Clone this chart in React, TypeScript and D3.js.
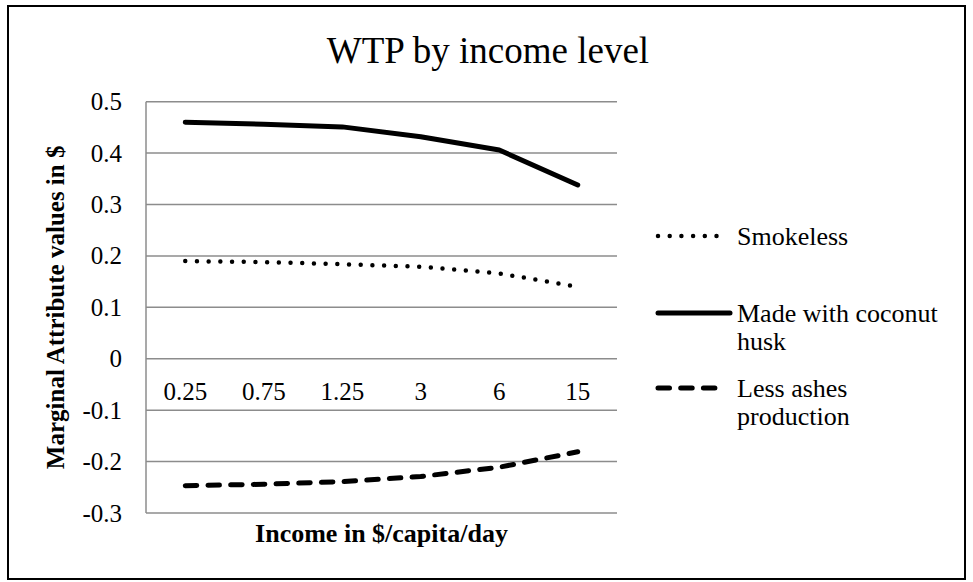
import React, { useEffect, useRef } from 'react';
import * as d3 from 'd3';

const categories = ['0.25', '0.75', '1.25', '3', '6', '15'];
const smokeless = [0.19, 0.188, 0.184, 0.179, 0.166, 0.14];
const coconutHusk = [0.46, 0.456, 0.451, 0.432, 0.406, 0.338];
const lessAshes = [-0.247, -0.244, -0.239, -0.229, -0.211, -0.181];
const yTickValues = [-0.3, -0.2, -0.1, 0, 0.1, 0.2, 0.3, 0.4, 0.5];

const FONT = '"Liberation Serif", "Times New Roman", serif';

const series = [
  { name: ['Smokeless'], values: smokeless, width: 4.5, dash: '0 11.7', legendEnd: 720, y: 236 },
  { name: ['Made with coconut', 'husk'], values: coconutHusk, width: 5, dash: null, legendEnd: 730, y: 313 },
  { name: ['Less ashes', 'production'], values: lessAshes, width: 5, dash: '11.5 11.2', legendEnd: 722, y: 388 },
];

const App: React.FC = () => {
  const svgRef = useRef<SVGSVGElement>(null);

  useEffect(() => {
    if (!svgRef.current) return;
    const svg = d3.select(svgRef.current);
    svg.selectAll('*').remove();

    const plot = { left: 146, right: 617, top: 101.7, bottom: 513 };

    // outer chart border
    svg.append('rect')
      .attr('x', 8).attr('y', 6)
      .attr('width', 957).attr('height', 573)
      .attr('fill', '#fff')
      .attr('stroke', '#000')
      .attr('stroke-width', 2);

    const x = d3.scalePoint<string>()
      .domain(categories)
      .range([plot.left, plot.right])
      .padding(0.5);

    const y = d3.scaleLinear()
      .domain([-0.3, 0.5])
      .range([plot.bottom, plot.top]);

    // gridlines
    svg.append('g')
      .selectAll('line')
      .data(yTickValues)
      .enter()
      .append('line')
      .attr('x1', plot.left).attr('x2', plot.right)
      .attr('y1', d => y(d)).attr('y2', d => y(d))
      .attr('stroke', '#8c8c8c')
      .attr('stroke-width', 1.5);

    // left axis line
    svg.append('line')
      .attr('x1', plot.left).attr('x2', plot.left)
      .attr('y1', y(0.5)).attr('y2', y(-0.3))
      .attr('stroke', '#8c8c8c')
      .attr('stroke-width', 1.5);

    // y tick labels
    svg.append('g')
      .selectAll('text')
      .data(yTickValues)
      .enter()
      .append('text')
      .text(d => String(+d.toFixed(1)))
      .attr('x', 122)
      .attr('y', d => y(d))
      .attr('dy', '0.34em')
      .attr('text-anchor', 'end')
      .attr('font-family', FONT)
      .attr('font-size', 25);

    // category labels sit under the zero line
    svg.append('g')
      .selectAll('text')
      .data(categories)
      .enter()
      .append('text')
      .text(d => d)
      .attr('x', d => x(d) || 0)
      .attr('y', y(0) + 41)
      .attr('text-anchor', 'middle')
      .attr('font-family', FONT)
      .attr('font-size', 25);

    const line = d3.line<number>()
      .x((_, i) => x(categories[i]) || 0)
      .y(d => y(d));

    series.forEach(s => {
      const p = svg.append('path')
        .attr('d', line(s.values))
        .attr('fill', 'none')
        .attr('stroke', '#000')
        .attr('stroke-width', s.width)
        .attr('stroke-linecap', 'round')
        .attr('stroke-linejoin', 'round');
      if (s.dash) p.attr('stroke-dasharray', s.dash);
    });

    // legend
    series.forEach(s => {
      const lg = svg.append('line')
        .attr('x1', 658).attr('x2', s.legendEnd)
        .attr('y1', s.y).attr('y2', s.y)
        .attr('stroke', '#000')
        .attr('stroke-width', s.width)
        .attr('stroke-linecap', 'round');
      if (s.dash) lg.attr('stroke-dasharray', s.dash);

      const t = svg.append('text')
        .attr('x', 737)
        .attr('y', s.y + 8.5)
        .attr('font-family', FONT)
        .attr('font-size', 26);
      s.name.forEach((ln, i) => {
        t.append('tspan')
          .attr('x', 737)
          .attr('dy', i === 0 ? 0 : 28)
          .text(ln);
      });
    });

    // title
    svg.append('text')
      .text('WTP by income level')
      .attr('x', 488)
      .attr('y', 63)
      .attr('text-anchor', 'middle')
      .attr('font-family', FONT)
      .attr('font-size', 37);

    // axis titles
    svg.append('text')
      .text('Income in $/capita/day')
      .attr('x', (plot.left + plot.right) / 2)
      .attr('y', 541.5)
      .attr('text-anchor', 'middle')
      .attr('font-family', FONT)
      .attr('font-weight', 'bold')
      .attr('font-size', 26);

    svg.append('text')
      .text('Marginal Attribute values in $')
      .attr('transform', `translate(64,${(plot.top + plot.bottom) / 2}) rotate(-90)`)
      .attr('text-anchor', 'middle')
      .attr('font-family', FONT)
      .attr('font-weight', 'bold')
      .attr('font-size', 25);
  }, []);

  return (
    <div>
      <style>{`body { margin: 0; }`}</style>
      <svg ref={svgRef} width={973} height={582} style={{ display: 'block' }}></svg>
    </div>
  );
};

export default App;
